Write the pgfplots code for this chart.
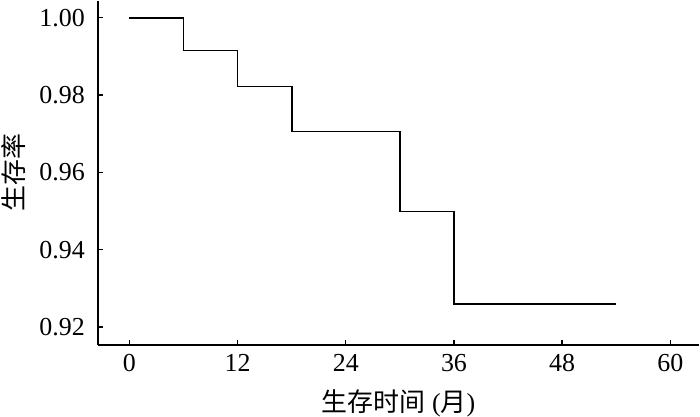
\documentclass[border=0pt]{standalone}
\usepackage{fontspec}
\setmainfont{Liberation Serif}
\newfontfamily\cjk{Noto Sans CJK SC}
\usepackage{pgfplots}
\pgfplotsset{compat=1.18}
\begin{document}
\fontsize{13}{15}\selectfont
\begin{tikzpicture}
\begin{axis}[
  scale only axis,
  width=301.5pt, height=172.5pt,
  xmin=-3.5, xmax=63.2,
  ymin=0.9154, ymax=1.0044,
  axis lines=left,
  axis line style={-, line width=0.8pt},
  tick align=inside,
  major tick length=2.5pt,
  tick style={line width=0.7pt, black},
  xtick={0,12,24,36,48,60},
  ytick={0.92,0.94,0.96,0.98,1.00},
  /pgf/number format/assume math mode=true,
  ticklabel style={font=\fontsize{13}{15}\selectfont},
  yticklabel style={xshift=-2pt, /pgf/number format/.cd, fixed, fixed zerofill, precision=2},
  xlabel={\raisebox{0pt}[0.95em][0.15em]{{\cjk 生存时间} ({\cjk 月})}},
  ylabel={\raisebox{0pt}[0.9em][0.12em]{\cjk 生存率}},
  xlabel style={font=\fontsize{13}{15}\selectfont, inner sep=1pt, yshift=-2pt},
  ylabel style={font=\fontsize{13}{15}\selectfont, inner sep=0pt, yshift=2pt},
  clip=false,
]
\addplot[const plot, black, line width=0.8pt] coordinates {
  (0,1.000) (6,0.9915) (12,0.9822) (18,0.9706) (30,0.9499) (36,0.9259) (54,0.9259)
};
\end{axis}
\end{tikzpicture}
\end{document}
